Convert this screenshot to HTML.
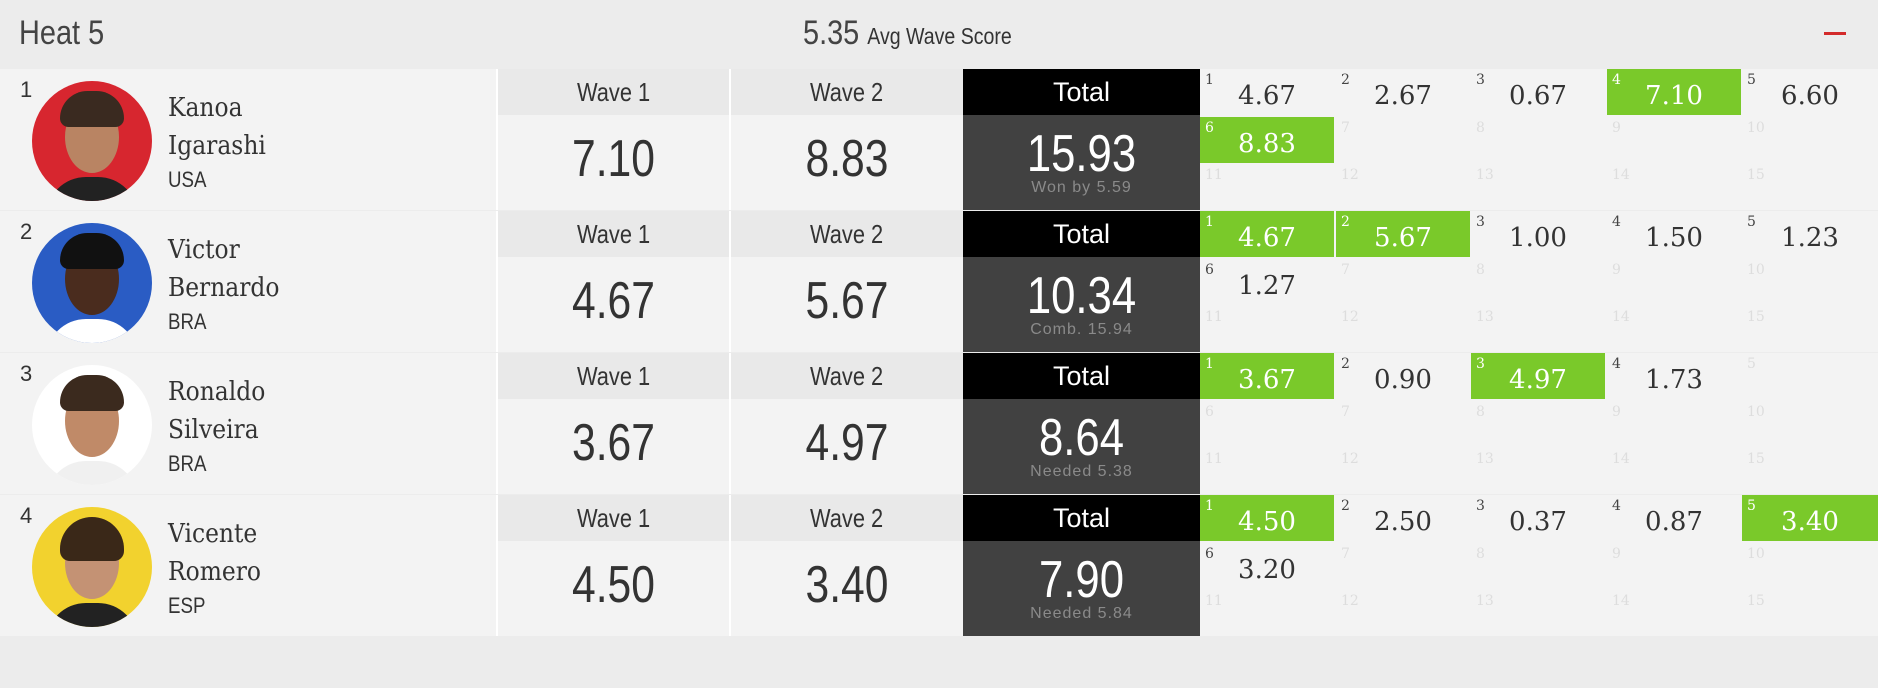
<!DOCTYPE html>
<html><head><meta charset="utf-8"><style>
*{margin:0;padding:0;box-sizing:border-box}
body{width:1878px;height:688px;background:#ececec;position:relative;overflow:hidden;font-family:"Liberation Sans",sans-serif;color:#333}
.a{position:absolute}
.k{display:inline-block;transform:scaleX(.84)}
.row{position:absolute;left:0;width:1878px;height:141px;background:#f3f3f3}
.rk{position:absolute;left:20px;top:8px;font-size:22px;color:#333}
.ph{position:absolute;left:32px;top:12px;width:120px;height:120px;border-radius:50%;overflow:hidden}
.face{position:absolute;left:33px;top:20px;width:54px;height:72px;border-radius:50%;background:#b98463}
.hair{position:absolute;left:28px;top:10px;width:64px;height:36px;border-radius:32px 32px 10px 10px;background:#3a2a20}
.body{position:absolute;left:14px;top:96px;width:92px;height:40px;border-radius:40px 40px 0 0;background:#222}
.nm{position:absolute;left:168px;top:20px;font-family:"DejaVu Serif",serif;font-size:26px;line-height:38px;color:#333;transform:scaleX(.9);transform-origin:left}
.ct{position:absolute;left:168px;top:98px;font-size:22px;color:#333;transform:scaleX(.85);transform-origin:left}
.wh{position:absolute;top:0;height:46px;background:#e9e9e9;text-align:center;line-height:46px;font-size:26px;color:#333}
.wv{position:absolute;top:46px;height:95px;text-align:center;line-height:88px;font-size:52px;color:#333;transform:scaleX(.82)}
.th{position:absolute;left:963px;top:0;width:237px;height:46px;background:#000;color:#fff;text-align:center;line-height:46px;font-size:27px}
.tv{position:absolute;left:963px;top:46px;width:237px;height:95px;background:#414141;color:#fff;text-align:center}
.tv b{display:block;font-weight:normal;font-size:52px;line-height:50px;margin-top:14px;transform:scaleX(.84)}
.tv i{display:block;font-style:normal;font-size:16px;color:#8a8a8a;letter-spacing:1px}
.c{position:absolute;width:134px;height:46px;background:#f3f3f3;font-family:"DejaVu Serif",serif;text-align:center;line-height:46px;padding-top:4px;font-size:26px;color:#333}
.c s{text-decoration:none;position:absolute;left:5px;top:-12px;font-size:14px;color:#444}
.c.e s{color:#ddd}
.c.g{background:#7ac92a;color:#fff}
.c.g s{color:#fff}
.vl{position:absolute;width:2px;height:141px;background:#fff;top:0}
</style></head><body>
<div class="a" style="left:19px;top:14px;font-size:34px;color:#444;transform:scaleX(.85);transform-origin:left">Heat 5</div>
<div class="a" style="left:803px;top:14px;font-size:34px;color:#444;transform:scaleX(.85);transform-origin:left">5.35 <span style="font-size:23px;color:#333">Avg Wave Score</span></div>
<div class="a" style="left:1824px;top:32px;width:22px;height:3px;background:#d32b2b"></div>

<!-- Row 1 -->
<div class="row" style="top:69px">
<div class="rk">1</div>
<div class="ph" style="background:#d7262f"><div class="body"></div><div class="face"></div><div class="hair"></div></div>
<div class="nm">Kanoa<br>Igarashi</div><div class="ct">USA</div>
<div class="vl" style="left:496px"></div><div class="vl" style="left:729px"></div>
<div class="wh" style="left:498px;width:231px"><span class="k">Wave 1</span></div><div class="wh" style="left:731px;width:232px"><span class="k">Wave 2</span></div>
<div class="wv" style="left:498px;width:231px">7.10</div><div class="wv" style="left:731px;width:232px">8.83</div>
<div class="th">Total</div><div class="tv"><b>15.93</b><i>Won by 5.59</i></div>
<div class="c" style="left:1200px;top:0"><s>1</s>4.67</div>
<div class="c" style="left:1336px;top:0"><s>2</s>2.67</div>
<div class="c" style="left:1471px;top:0"><s>3</s>0.67</div>
<div class="c g" style="left:1607px;top:0"><s>4</s>7.10</div>
<div class="c" style="left:1742px;top:0;width:136px"><s>5</s>6.60</div>
<div class="c g" style="left:1200px;top:48px"><s>6</s>8.83</div>
<div class="c e" style="left:1336px;top:48px"><s>7</s></div>
<div class="c e" style="left:1471px;top:48px"><s>8</s></div>
<div class="c e" style="left:1607px;top:48px"><s>9</s></div>
<div class="c e" style="left:1742px;top:48px;width:136px"><s>10</s></div>
<div class="c e" style="left:1200px;top:95px"><s>11</s></div>
<div class="c e" style="left:1336px;top:95px"><s>12</s></div>
<div class="c e" style="left:1471px;top:95px"><s>13</s></div>
<div class="c e" style="left:1607px;top:95px"><s>14</s></div>
<div class="c e" style="left:1742px;top:95px;width:136px"><s>15</s></div>
</div>

<!-- Row 2 -->
<div class="row" style="top:211px">
<div class="rk">2</div>
<div class="ph" style="background:#2a5cc4"><div class="body" style="background:#fff"></div><div class="face" style="background:#4a2c1e"></div><div class="hair" style="background:#111"></div></div>
<div class="nm">Victor<br>Bernardo</div><div class="ct">BRA</div>
<div class="vl" style="left:496px"></div><div class="vl" style="left:729px"></div>
<div class="wh" style="left:498px;width:231px"><span class="k">Wave 1</span></div><div class="wh" style="left:731px;width:232px"><span class="k">Wave 2</span></div>
<div class="wv" style="left:498px;width:231px">4.67</div><div class="wv" style="left:731px;width:232px">5.67</div>
<div class="th">Total</div><div class="tv"><b>10.34</b><i>Comb. 15.94</i></div>
<div class="c g" style="left:1200px;top:0"><s>1</s>4.67</div>
<div class="c g" style="left:1336px;top:0"><s>2</s>5.67</div>
<div class="c" style="left:1471px;top:0"><s>3</s>1.00</div>
<div class="c" style="left:1607px;top:0"><s>4</s>1.50</div>
<div class="c" style="left:1742px;top:0;width:136px"><s>5</s>1.23</div>
<div class="c" style="left:1200px;top:48px"><s>6</s>1.27</div>
<div class="c e" style="left:1336px;top:48px"><s>7</s></div>
<div class="c e" style="left:1471px;top:48px"><s>8</s></div>
<div class="c e" style="left:1607px;top:48px"><s>9</s></div>
<div class="c e" style="left:1742px;top:48px;width:136px"><s>10</s></div>
<div class="c e" style="left:1200px;top:95px"><s>11</s></div>
<div class="c e" style="left:1336px;top:95px"><s>12</s></div>
<div class="c e" style="left:1471px;top:95px"><s>13</s></div>
<div class="c e" style="left:1607px;top:95px"><s>14</s></div>
<div class="c e" style="left:1742px;top:95px;width:136px"><s>15</s></div>
</div>

<!-- Row 3 -->
<div class="row" style="top:353px">
<div class="rk">3</div>
<div class="ph" style="background:#fff"><div class="body" style="background:#f0f0f0"></div><div class="face" style="background:#c08a68"></div><div class="hair" style="background:#3b2a1e"></div></div>
<div class="nm">Ronaldo<br>Silveira</div><div class="ct">BRA</div>
<div class="vl" style="left:496px"></div><div class="vl" style="left:729px"></div>
<div class="wh" style="left:498px;width:231px"><span class="k">Wave 1</span></div><div class="wh" style="left:731px;width:232px"><span class="k">Wave 2</span></div>
<div class="wv" style="left:498px;width:231px">3.67</div><div class="wv" style="left:731px;width:232px">4.97</div>
<div class="th">Total</div><div class="tv"><b>8.64</b><i>Needed 5.38</i></div>
<div class="c g" style="left:1200px;top:0"><s>1</s>3.67</div>
<div class="c" style="left:1336px;top:0"><s>2</s>0.90</div>
<div class="c g" style="left:1471px;top:0"><s>3</s>4.97</div>
<div class="c" style="left:1607px;top:0"><s>4</s>1.73</div>
<div class="c e" style="left:1742px;top:0;width:136px"><s>5</s></div>
<div class="c e" style="left:1200px;top:48px"><s>6</s></div>
<div class="c e" style="left:1336px;top:48px"><s>7</s></div>
<div class="c e" style="left:1471px;top:48px"><s>8</s></div>
<div class="c e" style="left:1607px;top:48px"><s>9</s></div>
<div class="c e" style="left:1742px;top:48px;width:136px"><s>10</s></div>
<div class="c e" style="left:1200px;top:95px"><s>11</s></div>
<div class="c e" style="left:1336px;top:95px"><s>12</s></div>
<div class="c e" style="left:1471px;top:95px"><s>13</s></div>
<div class="c e" style="left:1607px;top:95px"><s>14</s></div>
<div class="c e" style="left:1742px;top:95px;width:136px"><s>15</s></div>
</div>

<!-- Row 4 -->
<div class="row" style="top:495px">
<div class="rk">4</div>
<div class="ph" style="background:#f2d22e"><div class="body"></div><div class="face" style="background:#c49274"></div><div class="hair" style="background:#3a2818;height:44px"></div></div>
<div class="nm">Vicente<br>Romero</div><div class="ct">ESP</div>
<div class="vl" style="left:496px"></div><div class="vl" style="left:729px"></div>
<div class="wh" style="left:498px;width:231px"><span class="k">Wave 1</span></div><div class="wh" style="left:731px;width:232px"><span class="k">Wave 2</span></div>
<div class="wv" style="left:498px;width:231px">4.50</div><div class="wv" style="left:731px;width:232px">3.40</div>
<div class="th">Total</div><div class="tv"><b>7.90</b><i>Needed 5.84</i></div>
<div class="c g" style="left:1200px;top:0"><s>1</s>4.50</div>
<div class="c" style="left:1336px;top:0"><s>2</s>2.50</div>
<div class="c" style="left:1471px;top:0"><s>3</s>0.37</div>
<div class="c" style="left:1607px;top:0"><s>4</s>0.87</div>
<div class="c g" style="left:1742px;top:0;width:136px"><s>5</s>3.40</div>
<div class="c" style="left:1200px;top:48px"><s>6</s>3.20</div>
<div class="c e" style="left:1336px;top:48px"><s>7</s></div>
<div class="c e" style="left:1471px;top:48px"><s>8</s></div>
<div class="c e" style="left:1607px;top:48px"><s>9</s></div>
<div class="c e" style="left:1742px;top:48px;width:136px"><s>10</s></div>
<div class="c e" style="left:1200px;top:95px"><s>11</s></div>
<div class="c e" style="left:1336px;top:95px"><s>12</s></div>
<div class="c e" style="left:1471px;top:95px"><s>13</s></div>
<div class="c e" style="left:1607px;top:95px"><s>14</s></div>
<div class="c e" style="left:1742px;top:95px;width:136px"><s>15</s></div>
</div>
</body></html>
